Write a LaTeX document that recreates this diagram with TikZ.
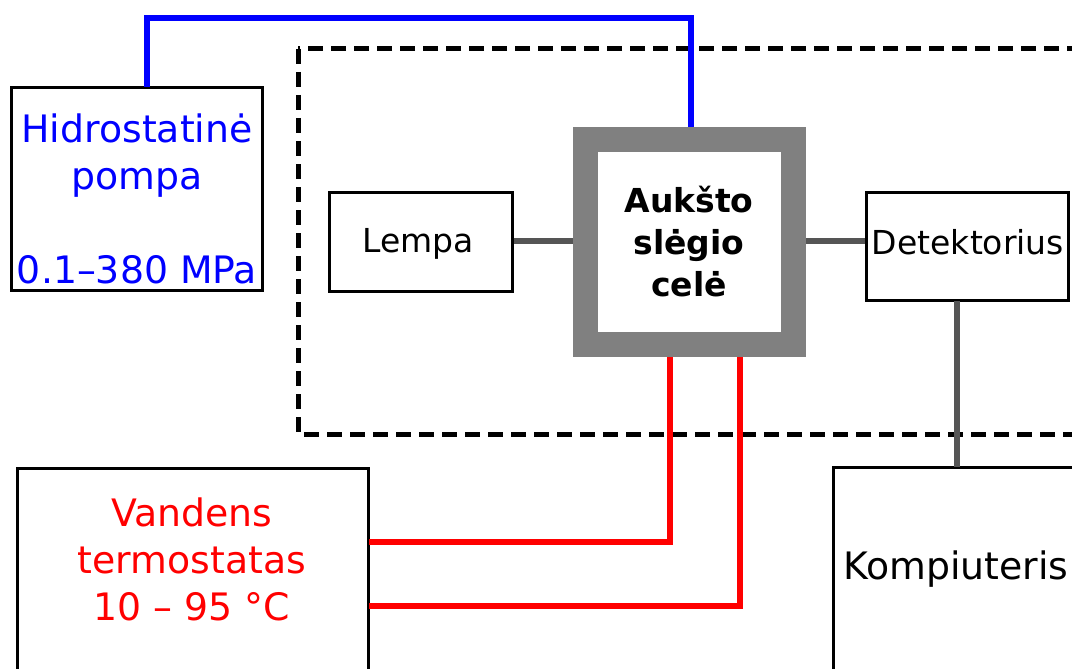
\documentclass[tikz,border=0pt]{standalone}
\usepackage{fontspec}
\setmainfont{DejaVu Sans}
\definecolor{pipeblue}{RGB}{0,0,255}
\definecolor{pipered}{RGB}{255,0,0}
\definecolor{cellgrey}{RGB}{128,128,128}
\definecolor{linkgrey}{RGB}{85,85,85}
\begin{document}
\begin{tikzpicture}[x=1pt,y=-1pt,
  box/.style={draw=black,line width=3pt,fill=white,inner sep=0pt},
  bigtext/.style={font=\fontsize{37.8}{47}\selectfont,align=center,inner sep=0pt},
  midtext/.style={font=\fontsize{33}{42}\selectfont,align=center,inner sep=0pt},
  bluepipe/.style={draw=pipeblue,line width=6.5pt},
  redpipe/.style={draw=pipered,line width=6.5pt},
  greylink/.style={draw=linkgrey,line width=6pt},
  cellbox/.style={draw=cellgrey,line width=25pt,fill=white,inner sep=0pt,minimum width=208pt,minimum height=205pt}]
\useasboundingbox (0,0) rectangle (1072,669);
\clip (0,0) rectangle (1072,669);
% dashed enclosure
\draw[line width=5pt,dash pattern=on 15pt off 8pt] (298,49) rectangle (1110,434);
% nodes
\node[box,minimum width=251pt,minimum height=203pt] (pump) at (137,189) {};
\node[bigtext,text=pipeblue] (pumptext) at (137,199) {Hidrostatinė\\pompa\\[47pt]0.1–380 MPa};
\node[box,minimum width=183pt,minimum height=99pt] (lamp) at (420.5,241.5) {};
\node[midtext] (lamptext) at (418,244) {Lempa};
\node[cellbox] (cell) at (689.5,242) {};
\node[midtext,font=\bfseries\fontsize{33}{42}\selectfont] (celltext) at (689,242) {Aukšto\\slėgio\\celė};
\node[box,minimum width=202pt,minimum height=108pt] (det) at (967,246) {};
\node[midtext] (dettext) at (968,242) {Detektorius};
\node[box,minimum width=246pt,minimum height=204pt] (comp) at (956,569) {};
\node[bigtext] (comptext) at (956,569) {Kompiuteris};
\node[box,minimum width=351pt,minimum height=240pt] (therm) at (192.5,588) {};
\node[bigtext,text=pipered] (thermtext) at (192,559) {Vandens\\termostatas\\10 – 95 °C};
% connectors
\coordinate (pumptop) at (147,87);
\coordinate (celltop) at (691,127);
\draw[bluepipe] (pumptop) -- (147,18) -- (691,18) -- (celltop);
\draw[greylink] (lamp.east |- 0,241) -- (cell.west |- 0,241);
\draw[greylink] (cell.east |- 0,241) -- (det.west |- 0,241);
\draw[greylink] (957,301) -- (957,467);
\draw[redpipe] (369,542) -- (670,542) -- (670,357);
\draw[redpipe] (369,606) -- (740,606) -- (740,357);
\end{tikzpicture}
\end{document}
